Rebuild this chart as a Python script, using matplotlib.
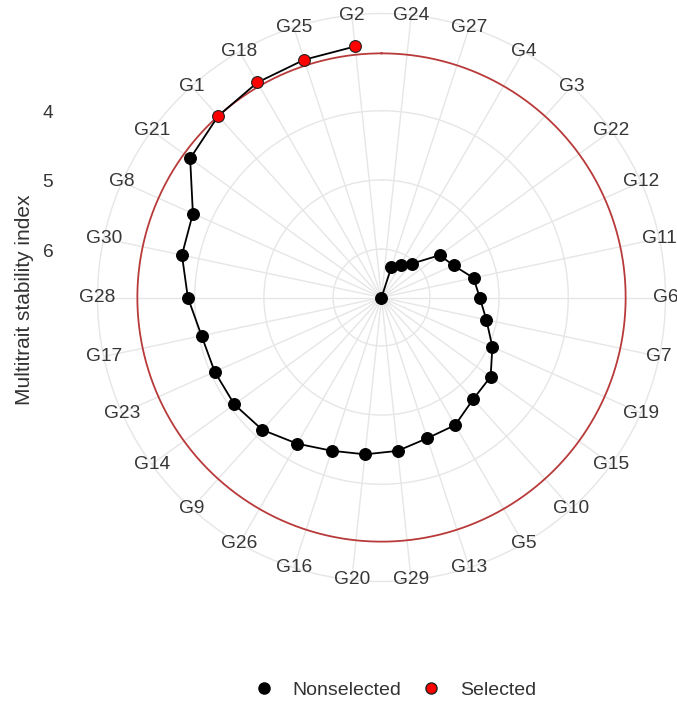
import numpy as np
import matplotlib
matplotlib.use("Agg")
import matplotlib.pyplot as plt
from matplotlib.lines import Line2D

plt.rcParams['font.family'] = ['Liberation Sans', 'DejaVu Sans']

# Genotypes in angular order (clockwise from top), ordered by decreasing MTSI
genotypes = ["G24", "G27", "G4", "G3", "G22", "G12", "G11", "G6", "G7", "G19",
             "G15", "G10", "G5", "G13", "G29", "G20", "G16", "G26", "G9", "G14",
             "G23", "G17", "G28", "G30", "G8", "G21", "G1", "G18", "G25", "G2"]
mtsi = [6.70, 6.24, 6.15, 6.04, 5.66, 5.56, 5.34, 5.28, 5.15, 4.945,
        4.75, 4.72, 4.57, 4.56, 4.47, 4.42, 4.37, 4.26, 4.125, 4.07,
        4.06, 4.04, 3.90, 3.75, 3.715, 3.28, 3.17, 3.11, 3.085, 3.05]
selected = ["G1", "G18", "G25", "G2"]
r_ticks = [4, 5, 6]

W, H = 677, 704
fig = plt.figure(figsize=(W / 100, H / 100), dpi=100)
cx, cy, R = 381.5, 297.5, 284
ax = fig.add_axes([(cx - R) / W, (H - cy - R) / H, 2 * R / W, 2 * R / H],
                  projection='polar')
ax.set_theta_zero_location('N')
ax.set_theta_direction(-1)

n = len(genotypes)
theta = (np.arange(n) + 0.5) / n * 2 * np.pi
vals = np.array(mtsi)
vmax, vmin = vals.max(), vals.min()
vouter = vmin - (vmax - vmin) * 0.125
ax.set_ylim(vmax, vouter)

gridc = '#E6E6E6'
tick_col = '#363636'
ax.set_xticks(theta)
ax.set_xticklabels([])
ax.tick_params(axis='x', length=0)
ax.set_yticks(r_ticks)
ax.set_yticklabels([])
ax.grid(True, color=gridc, lw=1.0)
ax.spines['polar'].set_color(gridc)
ax.spines['polar'].set_linewidth(1.0)

# genotype labels centred on the outer circle
for t, g in zip(theta, genotypes):
    ax.text(t, vouter, g, fontsize=13.8, color=tick_col, ha='center',
            va='center', clip_on=False, zorder=6)

sel_mask = np.array([g in selected for g in genotypes])
cutoff = vals[sel_mask].max()
tc = np.linspace(0, 2 * np.pi, 400)
ax.plot(tc, np.full_like(tc, cutoff), color='#B83A3A', lw=1.3, zorder=3)

ax.plot(theta, vals, color='black', lw=1.3, zorder=4)
ax.scatter(theta[~sel_mask], vals[~sel_mask], s=72, c='black',
           edgecolors='black', linewidths=0.8, zorder=5, clip_on=False)
ax.scatter(theta[sel_mask], vals[sel_mask], s=72, c='red',
           edgecolors='#222222', linewidths=0.8, zorder=5, clip_on=False)

# radial tick labels on the left side
inv = fig.transFigure.inverted()
for v in r_ticks:
    xd, yd = ax.transData.transform((0, v))
    fx, fy = inv.transform((xd, yd - 3))
    fig.text(48 / W, fy, str(v), fontsize=13.8, color=tick_col,
             ha='center', va='center')

fig.text(25 / W, (H - 300) / H, "Multitrait stability index", rotation=90,
         fontsize=15, color='#333333', ha='center', va='center')

handles = [Line2D([], [], marker='o', ls='', mfc='black', mec='black', ms=8),
           Line2D([], [], marker='o', ls='', mfc='red', mec='#222222', ms=8)]
fig.legend(handles, ['Nonselected', 'Selected'], loc='center',
           bbox_to_anchor=(395 / W, 14 / H), ncol=2, frameon=False,
           fontsize=14, handlelength=1.0, handletextpad=1.0,
           columnspacing=1.0, labelcolor='#333333')

fig.savefig("out.png", dpi=100)
